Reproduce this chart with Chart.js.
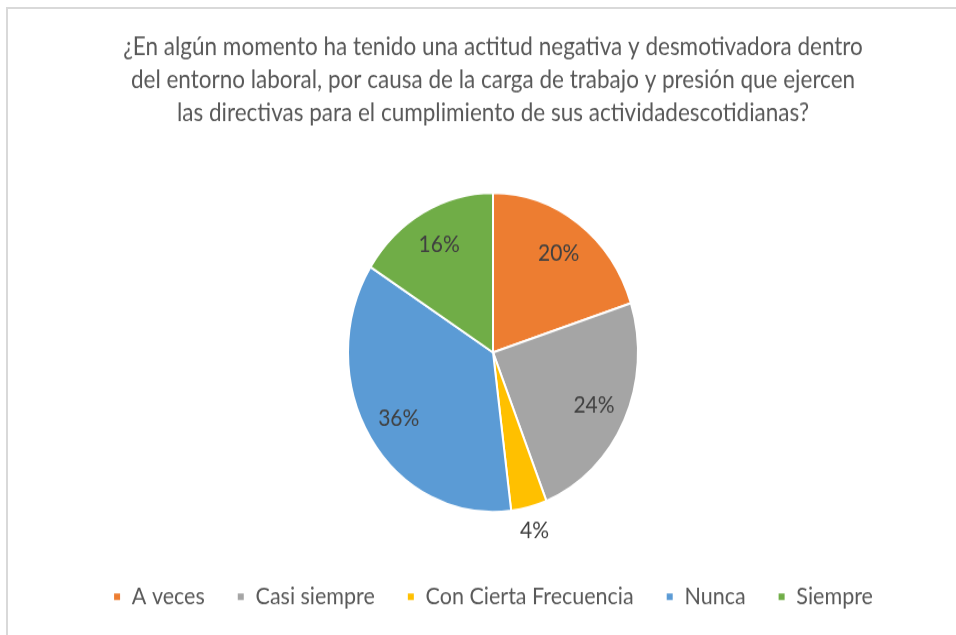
<!DOCTYPE html>
<html>
<head>
<meta charset="utf-8">
<script src="https://cdn.jsdelivr.net/npm/chart.js@4"></script>
<style>
  body { margin: 0; background: #fff; overflow: hidden; }
  #frame { position: absolute; left: 6px; top: 7px; width: 1000px; height: 700px; border: 2px solid #d9d9d9; }
  #wrap { position: absolute; left: 0; top: 0; transform: scaleY(1.1005); transform-origin: 0 0; }
</style>
</head>
<body>
<div id="frame"></div>
<div id="wrap"><canvas id="chart" width="986" height="577"></canvas></div>
<script>
const categories = ['A veces', 'Casi siempre', 'Con Cierta Frecuencia', 'Nunca', 'Siempre'];
const values = [20, 24, 4, 36, 16];
const colors = ['#ED7D31', '#A5A5A5', '#FFC000', '#5B9BD5', '#70AD47'];
const titleLines = [
    '¿En algún momento ha tenido una actitud negativa y desmotivadora dentro',
    'del entorno laboral, por causa de la carga de trabajo y presión que ejercen',
    'las directivas para el cumplimiento de sus actividadescotidianas?'
];

// percent labels inside the slices, small ones pushed outside
const pctLabels = {
    id: 'pctLabels',
    afterDatasetsDraw(chart) {
        const ctx = chart.ctx;
        const total = values.reduce((a, b) => a + b, 0);
        chart.getDatasetMeta(0).data.forEach((arc, i) => {
            const mid = (arc.startAngle + arc.endAngle) / 2;
            const r = values[i] / total < 0.06 ? arc.outerRadius + 22 : arc.outerRadius * 0.77;
            ctx.save();
            ctx.font = '21px Lato';
            ctx.fillStyle = '#404040';
            ctx.textAlign = 'center';
            ctx.textBaseline = 'middle';
            ctx.fillText(Math.round(values[i] / total * 100) + '%', arc.x + Math.cos(mid) * r, arc.y + Math.sin(mid) * r);
            ctx.restore();
        });
    }
};

const ctx = document.getElementById('chart').getContext('2d');
window.myChart = new Chart(ctx, {
    type: 'pie',
    data: {
        labels: categories,
        datasets: [{
            data: values,
            backgroundColor: colors,
            borderColor: '#ffffff',
            borderWidth: 2,
            radius: 145
        }]
    },
    options: {
        responsive: false,
        animation: false,
        layout: { padding: { top: 0, bottom: 14 } },
        plugins: {
            title: {
                display: true,
                text: titleLines,
                color: '#595959',
                font: { family: 'Lato', size: 22.5, weight: 'normal', lineHeight: 1.333 },
                padding: { top: 28, bottom: 23 }
            },
            legend: {
                position: 'bottom',
                labels: {
                    color: '#595959',
                    font: { family: 'Lato', size: 21.5 },
                    boxWidth: 8,
                    boxHeight: 8,
                    padding: 32
                }
            },
            tooltip: { enabled: false }
        }
    },
    plugins: [pctLabels]
});
</script>
</body>
</html>
